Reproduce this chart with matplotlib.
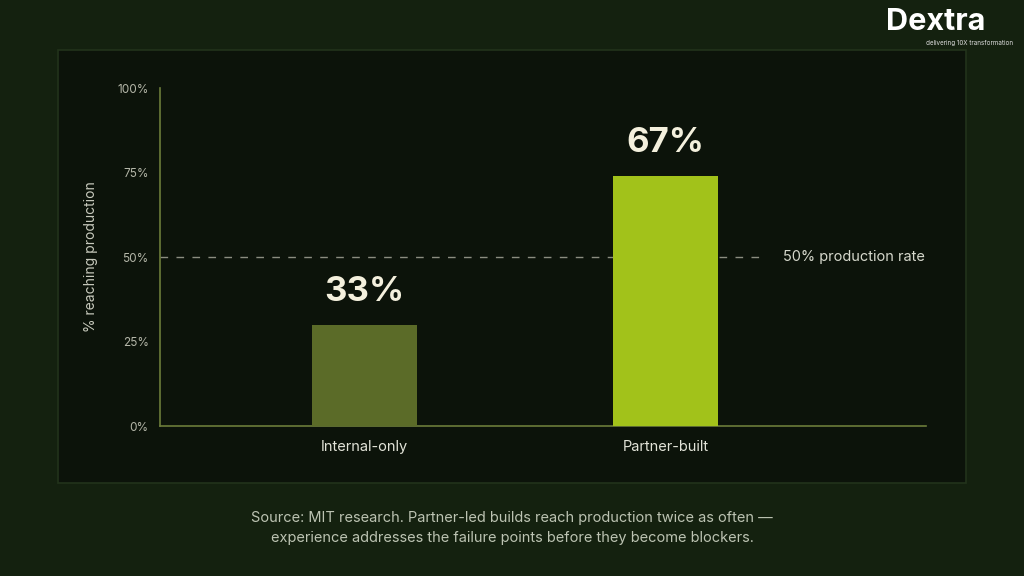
import matplotlib.pyplot as plt
from matplotlib.patches import Rectangle

plt.rcParams['font.family'] = ['Inter', 'DejaVu Sans']

categories = ['Internal-only', 'Partner-built']
bar_heights = [30, 74]
bar_labels = ['33%', '67%']
bar_colors = ['#5b6b28', '#a2c21a']
yticks = [0, 25, 50, 75, 100]
ytick_labels = ['0%', '25%', '50%', '75%', '100%']
ref_value = 50
ref_label = '50% production rate'
caption = ('Source: MIT research. Partner-led builds reach production twice as often —\n'
           'experience addresses the failure points before they become blockers.')

BG = '#14210f'
PANEL = '#0c130a'
AXIS = '#6c7c3a'

fig = plt.figure(figsize=(10.24, 5.76), dpi=100, facecolor=BG)

# dark panel behind the chart
fig.patches.append(Rectangle((0.0566, 0.1615), 0.8867, 0.7517, transform=fig.transFigure,
                             facecolor=PANEL, edgecolor='#22331b', linewidth=1.2, zorder=-10))

ax = fig.add_axes([0.156, 0.2604, 0.748, 0.5868])
ax.set_facecolor('none')

x = list(range(len(categories)))
ax.bar(x, bar_heights, width=0.35, color=bar_colors, zorder=3)
for xi, h, lab in zip(x, bar_heights, bar_labels):
    ax.text(xi, h + 5, lab, ha='center', va='bottom', fontsize=25, fontweight='bold',
            color='#f4f0dd', zorder=4)

ax.set_xlim(-0.681, 1.864)
ax.set_ylim(0, 100)

ax.plot([-0.681, 1.33], [ref_value, ref_value], linestyle=(0, (5.5, 6)), color='#8b8d80',
        linewidth=1, zorder=2)
ax.text(1.39, ref_value, ref_label, va='center', ha='left', fontsize=10.5, color='#d6d8cc')

ax.set_yticks(yticks)
ax.set_yticklabels(ytick_labels)
ax.set_xticks(x)
ax.set_xticklabels(categories)
ax.tick_params(axis='y', length=0, pad=8, labelsize=8.5, labelcolor='#b4b6a8')
ax.tick_params(axis='x', length=0, pad=10, labelsize=10.5, labelcolor='#e2e3d8')
ax.set_ylabel('% reaching production', fontsize=10, color='#c8cabd', labelpad=14)

for side in ['top', 'right']:
    ax.spines[side].set_visible(False)
for side in ['left', 'bottom']:
    ax.spines[side].set_color(AXIS)
    ax.spines[side].set_linewidth(1.2)

fig.text(0.5, 0.083, caption, ha='center', va='center', fontsize=10.5, color='#bcc3b2',
         linespacing=1.6)

# logo
fig.text(0.914, 0.962, 'Dextra', ha='center', va='center', fontsize=22, fontweight='bold',
         color='white')
fig.text(0.947, 0.925, 'delivering 10X transformation', ha='center', va='center',
         fontsize=4.5, color='#dddddd')

fig.savefig('out.png', dpi=100, facecolor=BG)
